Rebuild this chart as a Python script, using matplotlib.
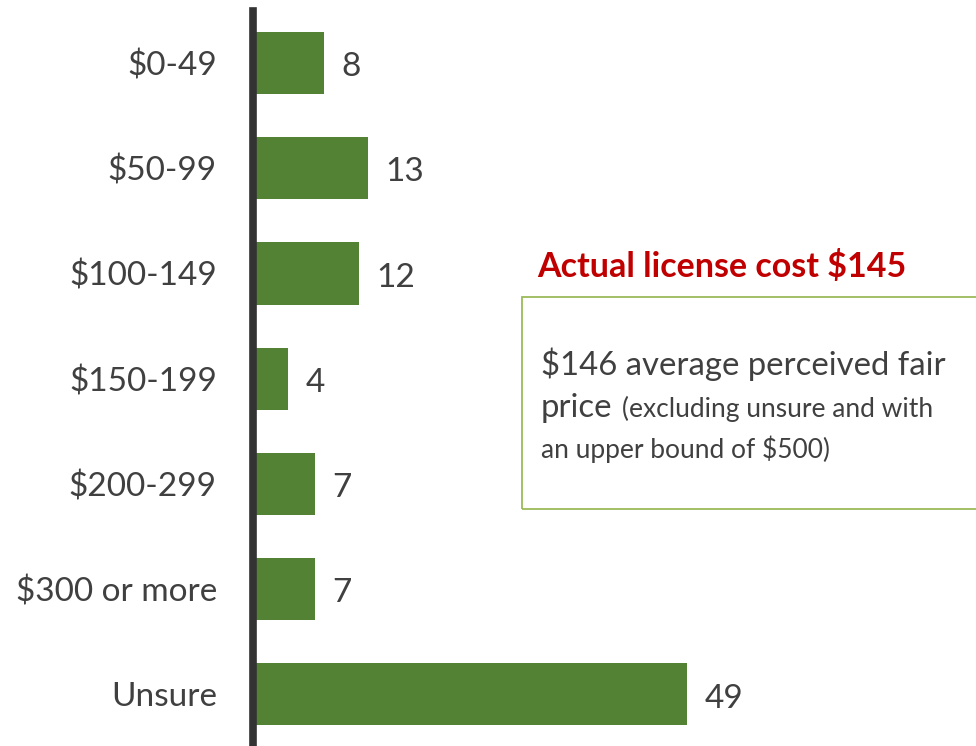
import matplotlib.pyplot as plt
from matplotlib.patches import Rectangle

plt.rcParams['font.family'] = ['Lato', 'DejaVu Sans']

categories = ['$0-49', '$50-99', '$100-149', '$150-199', '$200-299', '$300 or more', 'Unsure']
values = [8, 13, 12, 4, 7, 7, 49]

W, H = 976, 746
bar_color = '#548235'
text_color = '#404040'

fig = plt.figure(figsize=(W / 100, H / 100), dpi=100)
# axes: left edge on the dark axis line, categories every ~105 px
ax = fig.add_axes([253 / W, 0, 1 - 253 / W, (H - 11) / H])

ypos = list(range(len(categories)))
ax.barh(ypos, values, height=0.59, color=bar_color, zorder=2)
ax.set_ylim(6.49, -0.494)
ax.set_xlim(0, 81.6)

for y, v in zip(ypos, values):
    ax.annotate(str(v), xy=(v, y), xytext=(12.5, -3), textcoords='offset points',
                ha='left', va='center', fontsize=24, color=text_color)

ax.set_yticks(ypos)
ax.set_yticklabels(categories, fontsize=24, color=text_color)
ax.tick_params(axis='y', length=0, pad=26)
ax.set_xticks([])
for s in ['top', 'right', 'bottom']:
    ax.spines[s].set_visible(False)
ax.spines['left'].set_color('#333333')
ax.spines['left'].set_linewidth(5.5)


def fx(px):
    return px / W


def fy(py):
    return 1 - py / H


# annotation block
fig.text(fx(537), fy(277), 'Actual license cost $145', fontsize=24.5, fontweight='bold',
         color='#C00000', ha='left', va='baseline')

fig.add_artist(Rectangle((fx(522), fy(509)), fx(976 + 5) - fx(522), fy(297) - fy(509),
                         transform=fig.transFigure, fill=False, edgecolor='#9BBB59',
                         linewidth=1.3, clip_on=False))

fig.text(fx(541), fy(375), '$146 average perceived fair', fontsize=23.7,
         color=text_color, ha='left', va='baseline')
t_price = fig.text(fx(541), fy(417), 'price', fontsize=23.7,
                   color=text_color, ha='left', va='baseline')
fig.canvas.draw()
bb = t_price.get_window_extent(renderer=fig.canvas.get_renderer())
fig.text(bb.x1 / W + fx(9), fy(417), '(excluding unsure and with', fontsize=19,
         color=text_color, ha='left', va='baseline')
fig.text(fx(541), fy(458), 'an upper bound of $500)', fontsize=19,
         color=text_color, ha='left', va='baseline')

fig.savefig('out.png', dpi=100)
